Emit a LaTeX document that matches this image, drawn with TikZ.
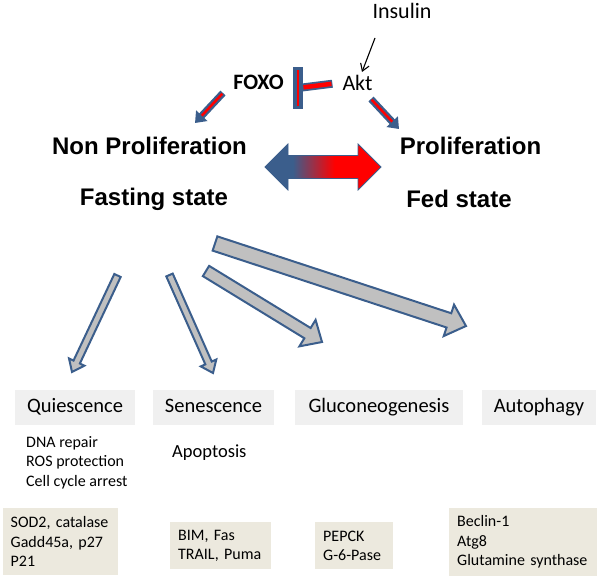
\documentclass[tikz,border=0pt]{standalone}
\usepackage{fontspec}
\setmainfont{Carlito}
\newfontfamily\arialfont{Liberation Sans}
\usetikzlibrary{arrows.meta,calc}

\definecolor{arrowblue}{RGB}{59,94,140}
\definecolor{arrowgrey}{RGB}{192,192,192}
\definecolor{boxgrey}{RGB}{240,240,240}
\definecolor{boxbeige}{RGB}{236,233,222}

% blue to red fill of the double arrow
\pgfdeclarehorizontalshading{bluered}{100bp}{color(0bp)=(arrowblue); color(37bp)=(arrowblue); color(55bp)=(red); color(100bp)=(red)}

\tikzset{
  statetext/.style={font=\arialfont\bfseries\fontsize{24}{28}\selectfont, inner sep=0pt},
  protein/.style={font=\fontsize{22}{26}\selectfont, inner sep=0pt},
  fate/.style={fill=boxgrey, font=\fontsize{20.5}{24}\selectfont, minimum height=35pt, inner sep=0pt, text height=14pt, text depth=4pt},
  listtext/.style={anchor=west, align=left, font=\fontsize{16}{19.5}\selectfont, inner sep=0pt},
  genebox/.style={fill=boxbeige, anchor=north west, align=left, font=\fontsize{16}{19.5}\selectfont, inner ysep=0pt, inner xsep=8pt},
  greyarrow/.style={draw=arrowblue, fill=arrowgrey, line width=2pt, line join=miter},
  signal/.style={arrowblue, line width=7pt, -{Triangle[width=15pt,length=10pt]}},
  signalcore/.style={red, line width=2.5pt, shorten >=10pt, shorten <=1pt},
}

% tail, tip, half shaft, half head, head length
\newcommand{\fatarrow}[5]{%
  \coordinate (fahead) at ($(#2)!#5!(#1)$);
  \draw[greyarrow] ($(#1)!#3!90:(#2)$) -- ($(fahead)!#3!90:(#2)$) -- ($(fahead)!#4!90:(#2)$) -- (#2)
    -- ($(fahead)!#4!-90:(#2)$) -- ($(fahead)!#3!-90:(#2)$) -- ($(#1)!#3!-90:(#2)$) -- cycle;
}

\begin{document}
\begin{tikzpicture}[x=1pt,y=-1pt]
    \useasboundingbox (0,0) rectangle (600,578);

    % Signalling
    \node[protein] (insulin) at (402,11) {Insulin};
    \node[protein, font=\bfseries\fontsize{22}{26}\selectfont] (foxo) at (258.5,82.5) {FOXO};
    \node[protein] (akt) at (357.5,82.5) {Akt};

    \coordinate (ins-s) at (375,38);
    \coordinate (ins-e) at (362,72);
    \draw[line width=1.1pt, -{Straight Barb[length=7pt,width=9pt]}] (ins-s) -- (ins-e);

    % Akt inhibits FOXO
    \coordinate (tbar) at (298,88);
    \draw[arrowblue, line width=8pt, shorten <=10pt] (akt.west) -- (tbar);
    \fill[arrowblue] ($(tbar)+(-5,-20.5)$) rectangle ($(tbar)+(5,20.5)$);
    \draw[red, line width=2pt] ($(tbar)+(-0.5,-18)$) -- ($(tbar)+(-0.5,18)$);
    \draw[red, line width=4.5pt, shorten <=11pt, shorten >=5.5pt] (akt.west) -- (tbar);

    % States
    \node[statetext] (nonprolif) at (149.5,146) {Non Proliferation};
    \node[statetext] (prolif) at (470.5,146) {Proliferation};
    \node[statetext] (fasting) at (154,199) {Fasting state};
    \node[statetext] (fed) at (459,199) {Fed state};

    \coordinate (fx-s) at (223,93);
    \coordinate (fx-e) at (195,123);
    \coordinate (ak-s) at (371,99);
    \coordinate (ak-e) at (399,129);
    \draw[signal] (fx-s) -- (fx-e);
    \draw[signalcore] (fx-s) -- (fx-e);
    \draw[signal] (ak-s) -- (ak-e);
    \draw[signalcore] (ak-s) -- (ak-e);

    % Double arrow
    \coordinate (dbl-l) at (265,167);
    \coordinate (dbl-r) at (381,167);
    \shadedraw[shading=bluered, draw=arrowblue, line width=0.8pt]
      (dbl-l) -- ++(23,-23) -- ++(0,11.5) -- ($(dbl-r)+(-23,-11.5)$) -- ++(0,-11.5) -- (dbl-r)
      -- ++(-23,23) -- ++(0,-11.5) -- ($(dbl-l)+(23,11.5)$) -- ++(0,11.5) -- cycle;

    % Fates
    \node[fate, minimum width=120pt] (quies) at (75,407.5) {Quiescence};
    \node[fate, minimum width=121pt] (senes) at (213.5,407.5) {Senescence};
    \node[fate, minimum width=168pt] (gluco) at (379,407.5) {Gluconeogenesis};
    \node[fate, minimum width=114pt] (autoph) at (539,407.5) {Autophagy};

    \coordinate (q-tail) at (117.5,275.5);
    \coordinate (q-tip) at (72,372);
    \coordinate (s-tail) at (169.5,275);
    \coordinate (s-tip) at (213,373);
    \coordinate (g-tail) at (206,271);
    \coordinate (g-tip) at (322,342);
    \coordinate (a-tail) at (215,243.5);
    \coordinate (a-tip) at (466,326);
    \fatarrow{q-tail}{q-tip}{3.5pt}{8.5pt}{11pt}
    \fatarrow{s-tail}{s-tip}{3.5pt}{8.5pt}{11pt}
    \fatarrow{g-tail}{g-tip}{6pt}{15.5pt}{17pt}
    \fatarrow{a-tail}{a-tip}{7.5pt}{16.5pt}{18pt}

    % Outcomes
    \node[listtext] (quies-list) at (26,462.5) {DNA repair\\ROS protection\\Cell cycle arrest};
    \node[listtext, font=\fontsize{18.5}{22}\selectfont] (apopt) at (172,453) {Apoptosis};

    % Target genes
    \node[genebox, text width=100pt, inner xsep=7.5pt, minimum height=67pt] (quies-genes) at (3,508) {SOD2, catalase\\Gadd45a, p27\\P21};
    \node[genebox, text width=85pt, minimum height=47pt] (senes-genes) at (170,522) {BIM, Fas\\TRAIL, Puma};
    \node[genebox, text width=62pt, minimum height=47pt] (gluco-genes) at (315,522) {PEPCK\\G-6-Pase};
    \node[genebox, text width=132pt, minimum height=68pt] (autoph-genes) at (449,508) {Beclin-1\\Atg8\\Glutamine synthase};
\end{tikzpicture}
\end{document}
